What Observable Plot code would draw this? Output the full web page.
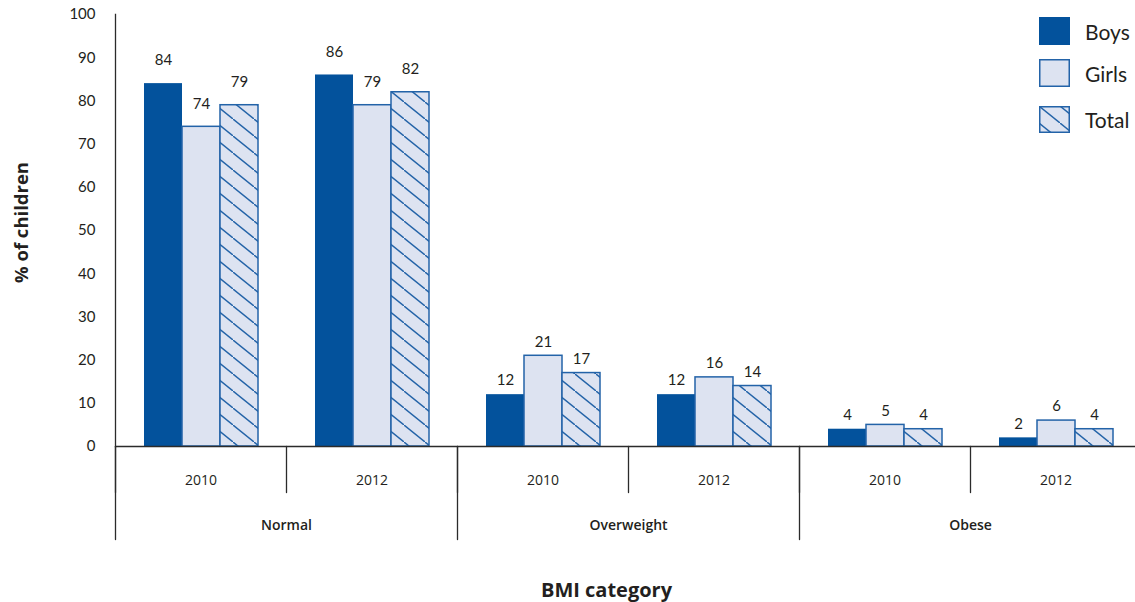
<!DOCTYPE html>
<html>
<head>
<meta charset="utf-8">
<script src="https://cdn.jsdelivr.net/npm/d3@7"></script>
<script src="https://cdn.jsdelivr.net/npm/@observablehq/plot@0.6"></script>
<style>
  html, body { margin: 0; padding: 0; background: #fff; overflow: hidden; }
  #chart { position: relative; width: 1135px; height: 602px; overflow: hidden; font-family: Lato, "Open Sans", sans-serif; color: #231f20; }
  #chart svg { max-width: none !important; }
  #chart > svg { position: absolute; left: 0; top: 0; }
  .legend-row { position: absolute; display: flex; align-items: center; }
  .legend-row span { font-size: 21px; color: #231f20; margin-left: 15px; }
</style>
</head>
<body>
<!-- hatch fill shared by the Total bars and their legend swatch -->
<svg width="0" height="0" style="position:absolute">
  <defs>
    <pattern id="hatch" patternUnits="userSpaceOnUse" width="21" height="17">
      <rect width="21" height="17" fill="#dde3f1"></rect>
      <path d="M-3,-2.43L24,19.43" stroke="#2363a8" stroke-width="1.4"></path>
    </pattern>
  </defs>
</svg>
<div id="chart"></div>
<script>
// BMI category by survey year, % of children
const categories = ["Normal", "Overweight", "Obese"];
const years = ["2010", "2012"];
const series = ["Boys", "Girls", "Total"];
// values listed as Normal 2010, Normal 2012, Overweight 2010, Overweight 2012, Obese 2010, Obese 2012
const boys  = [84, 86, 12, 12, 4, 2];
const girls = [74, 79, 21, 16, 5, 6];
const total = [79, 82, 17, 14, 4, 4];
const yTicks = [0, 10, 20, 30, 40, 50, 60, 70, 80, 90, 100];
const yTitle = "% of children";
const xTitle = "BMI category";

const seriesValues = {Boys: boys, Girls: girls, Total: total};
const seriesStyle = {
  Boys:  {fill: "#03529c", stroke: "#03529c"},
  Girls: {fill: "#dde3f1", stroke: "#2363a8"},
  Total: {fill: "url(#hatch)", stroke: "#2363a8"}
};

// one facet per category/year pair
const groups = categories.flatMap(category => years.map(year => ({key: `${category} ${year}`, category, year})));
const keys = groups.map(g => g.key);
const rows = series.flatMap(s => groups.map((g, i) => ({...g, series: s, value: seriesValues[s][i]})));

const W = 1143, H = 602, MT = 14, MB = 156, ML = 113;
const ink = "#2b2b2b";
const titleFont = "'Open Sans', Lato, sans-serif";

// plain vertical stroke, used for the separators under the baseline
const tickLine = {draw(context, l) { context.moveTo(0, 0); context.lineTo(0, -l); }};

const chart = Plot.plot({
  width: W,
  height: H,
  marginTop: MT,
  marginBottom: MB,
  marginLeft: ML,
  marginRight: 0,
  style: {fontFamily: "Lato, 'Open Sans', sans-serif", fontSize: "15px", color: "#231f20", background: "transparent", maxWidth: "none"},
  fx: {domain: keys, padding: 0, axis: null},
  x: {domain: series, paddingInner: 0, paddingOuter: 0.727, axis: null},
  y: {domain: [0, 100], axis: null},
  marks: [
    ...series.map(s => Plot.barY(rows.filter(d => d.series === s), {
      fx: "key", x: "series", y: "value",
      fill: seriesStyle[s].fill, stroke: seriesStyle[s].stroke, strokeWidth: s === "Boys" ? 0 : 1.5
    })),
    Plot.axisY({ticks: yTicks, tickSize: 0, tickPadding: 20, label: null, fontSize: 15, facetAnchor: "left"}),
    Plot.frame({anchor: "left", facetAnchor: "left", stroke: ink, strokeWidth: 1.3}),
    Plot.ruleY([0], {stroke: ink, strokeWidth: 1.4}),
    // value labels above the bars
    Plot.text(rows.filter(d => d.category === "Normal"), {fx: "key", x: "series", y: "value", text: d => String(d.value), dy: -23, fontSize: 15}),
    Plot.text(rows.filter(d => d.category !== "Normal"), {fx: "key", x: "series", y: "value", text: d => String(d.value), dy: -14, fontSize: 15}),
    // year separators and labels
    Plot.vector(groups, {fx: "key", frameAnchor: "bottom-left", length: 46, rotate: 180, anchor: "start", shape: tickLine, stroke: ink, strokeWidth: 1.3}),
    Plot.text(groups, {fx: "key", text: "year", frameAnchor: "bottom", textAnchor: "middle", dy: 38, fontSize: 14, fontFamily: titleFont}),
    // category separators and labels
    Plot.vector(groups.filter(g => g.year === years[0]), {fx: "key", frameAnchor: "bottom-left", length: 93, rotate: 180, anchor: "start", shape: tickLine, stroke: ink, strokeWidth: 1.3}),
    Plot.text(groups.filter(g => g.year === years[0]), {fx: "key", text: "category", frameAnchor: "bottom-right", textAnchor: "middle", dy: 83, fontSize: 14, fontWeight: 600, fontFamily: titleFont}),
    // axis titles
    Plot.text([xTitle], {fx: () => keys[2], frameAnchor: "bottom-right", textAnchor: "middle", dy: 150, dx: -22, fontSize: 20, fontWeight: "bold", fontFamily: titleFont}),
    Plot.text([yTitle], {fx: () => keys[0], frameAnchor: "left", textAnchor: "middle", rotate: -90, dx: -93, dy: -8, fontSize: 18.5, fontWeight: "bold", fontFamily: titleFont})
  ]
});

const root = document.getElementById("chart");
root.appendChild(chart);

// legend, top right
const legendRows = [{top: 17, h: 28}, {top: 59, h: 28}, {top: 106, h: 27}];
series.forEach((s, i) => {
  const row = document.createElement("div");
  row.className = "legend-row";
  row.style.left = "1039px";
  row.style.top = legendRows[i].top + "px";
  row.style.height = legendRows[i].h + "px";
  const st = seriesStyle[s];
  const sw = s === "Boys" ? 0 : 1.5;
  row.innerHTML = `<svg width="31" height="${legendRows[i].h}"><rect x="${sw / 2}" y="${sw / 2}" width="${31 - sw}" height="${legendRows[i].h - sw}" fill="${st.fill}" stroke="${st.stroke}" stroke-width="${sw}"></rect></svg><span>${s}</span>`;
  root.appendChild(row);
});
</script>
</body>
</html>
